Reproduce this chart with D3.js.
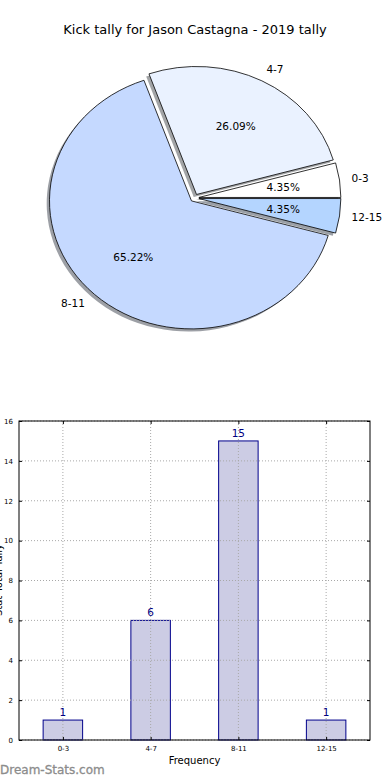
<!DOCTYPE html>
<html><head><meta charset="utf-8">
<script src="https://cdn.jsdelivr.net/npm/d3@7"></script>
<style>body{margin:0;background:#fff;}svg{display:block;font-family:"DejaVu Sans",sans-serif;}</style>
</head><body>
<script>
const categories = ["0-3", "4-7", "8-11", "12-15"];
const counts = [1, 6, 15, 1];
const pieColors = ["#ffffff", "#eaf2ff", "#c5d9ff", "#b4d5ff"];
const yTicks = [0, 2, 4, 6, 8, 10, 12, 14, 16];
const title = "Kick tally for Jason Castagna - 2019 tally";

const W = 390, H = 780;
const svg = d3.select("body").append("svg").attr("width", W).attr("height", H);

svg.append("text").attr("x", 195).attr("y", 34).attr("text-anchor", "middle")
  .attr("font-size", 13).attr("fill", "#000").text(title);

// ---- Pie ----
const cx = 194.5, cy = 198, Rx = 142, Ry = 128, ex = 0.031;
const total = d3.sum(counts);
let acc = 0;
const wedges = counts.map((v, i) => {
  const t1 = acc / total * 2 * Math.PI;
  acc += v;
  const t2 = acc / total * 2 * Math.PI;
  const m = (t1 + t2) / 2;
  return {i, v, t1, t2, m};
});
const arc = d3.arc().innerRadius(0).outerRadius(Rx);
const pieG = svg.append("g");
function wedgeG(w, dx, dy) {
  const ox = cx + ex * Rx * Math.cos(w.m) + dx;
  const oy = cy - ex * Ry * Math.sin(w.m) + dy;
  return pieG.append("g").attr("transform", `translate(${ox},${oy}) scale(1,${Ry / Rx})`);
}
function wedgePath(w) {
  return arc({startAngle: Math.PI / 2 - w.t2, endAngle: Math.PI / 2 - w.t1});
}
wedges.forEach(w => {
  const c = d3.rgb(pieColors[w.i]);
  wedgeG(w, -2.8, 2.6).append("path").attr("d", wedgePath(w))
    .attr("fill", d3.rgb(c.r * 0.3, c.g * 0.3, c.b * 0.3)).attr("fill-opacity", 0.5);
});
wedges.forEach(w => {
  wedgeG(w, 0, 0).append("path").attr("d", wedgePath(w))
    .attr("fill", pieColors[w.i]).attr("stroke", "#000").attr("stroke-width", 0.8)
    .attr("vector-effect", "non-scaling-stroke");
});
wedges.forEach(w => {
  const ox = cx + ex * Rx * Math.cos(w.m), oy = cy - ex * Ry * Math.sin(w.m);
  const lx = ox + 1.1 * Rx * Math.cos(w.m), ly = oy - 1.1 * Ry * Math.sin(w.m);
  svg.append("text").attr("x", lx - (Math.cos(w.m) >= 0 ? 2 : 0)).attr("y", ly).attr("dy", "0.35em")
    .attr("text-anchor", Math.cos(w.m) >= 0 ? "start" : "end")
    .attr("font-size", 10.5).text(categories[w.i]);
  const px = ox + 0.6 * Rx * Math.cos(w.m), py = oy - 0.6 * Ry * Math.sin(w.m);
  svg.append("text").attr("x", px).attr("y", py).attr("dy", "0.35em")
    .attr("text-anchor", "middle").attr("font-size", 10.5)
    .text((w.v / total * 100).toFixed(2) + "%");
});

// ---- Bar chart ----
const L = 19, R = 370, T = 421, B = 740;
const x = d3.scaleLinear().domain([-0.5, 3.5]).range([L, R]);
const y = d3.scaleLinear().domain([0, 16]).range([B, T]);
const bw = 0.45;
const bars = svg.append("g");
bars.selectAll("rect").data(counts).enter().append("rect")
  .attr("x", (d, i) => x(i - bw / 2)).attr("width", (d, i) => x(i + bw / 2) - x(i - bw / 2))
  .attr("y", d => y(d)).attr("height", d => y(0) - y(d))
  .attr("fill", "#ccccE4").attr("stroke", "#00008b").attr("stroke-width", 1);
const grid = svg.append("g").attr("stroke", "#a8a8a8").attr("stroke-width", 1).attr("stroke-dasharray", "1,2");
yTicks.forEach(t => grid.append("line").attr("x1", L).attr("x2", R).attr("y1", y(t)).attr("y2", y(t)));
categories.forEach((c, i) => grid.append("line").attr("x1", x(i)).attr("x2", x(i)).attr("y1", T).attr("y2", B));
svg.append("rect").attr("x", L).attr("y", T).attr("width", R - L).attr("height", B - T)
  .attr("fill", "none").attr("stroke", "#000").attr("stroke-width", 1);
const yAxis = d3.axisLeft(y).tickValues(yTicks).tickSize(-3).tickPadding(6);
const ya = svg.append("g").attr("transform", `translate(${L},0)`).call(yAxis);
ya.select(".domain").remove();
ya.selectAll("text").attr("font-size", 7).attr("font-family", "DejaVu Sans").attr("fill", "#000");
const yAxisR = d3.axisRight(y).tickValues(yTicks).tickSize(-3).tickFormat("");
const yr = svg.append("g").attr("transform", `translate(${R},0)`).call(yAxisR);
yr.select(".domain").remove();
const xAxis = d3.axisBottom(x).tickValues([0, 1, 2, 3]).tickFormat(i => categories[i]).tickSize(-3).tickPadding(6);
const xa = svg.append("g").attr("transform", `translate(0,${B})`).call(xAxis);
xa.select(".domain").remove();
xa.selectAll("text").attr("font-size", 7).attr("font-family", "DejaVu Sans").attr("fill", "#000");
const xAxisT = d3.axisTop(x).tickValues([0, 1, 2, 3]).tickSize(-3).tickFormat("");
const xt = svg.append("g").attr("transform", `translate(0,${T})`).call(xAxisT);
xt.select(".domain").remove();
svg.selectAll(".tick line").attr("stroke", "#000");
svg.append("g").selectAll("text").data(counts).enter().append("text")
  .attr("x", (d, i) => x(i)).attr("y", d => y(d) - 4).attr("text-anchor", "middle")
  .attr("font-size", 10.5).attr("fill", "#000080").text(d => d);
svg.append("text").attr("x", (L + R) / 2).attr("y", 764).attr("text-anchor", "middle")
  .attr("font-size", 10).text("Frequency");
svg.append("text").attr("transform", `translate(2,580) rotate(-90)`).attr("text-anchor", "middle")
  .attr("font-size", 10).text("Stat Total Tally");
svg.append("text").attr("x", 0).attr("y", 774).attr("font-size", 12)
  .attr("fill", "#8c8c8c").attr("stroke", "#8c8c8c").attr("stroke-width", 0.3).text("Dream-Stats.com");
</script>
</body></html>
